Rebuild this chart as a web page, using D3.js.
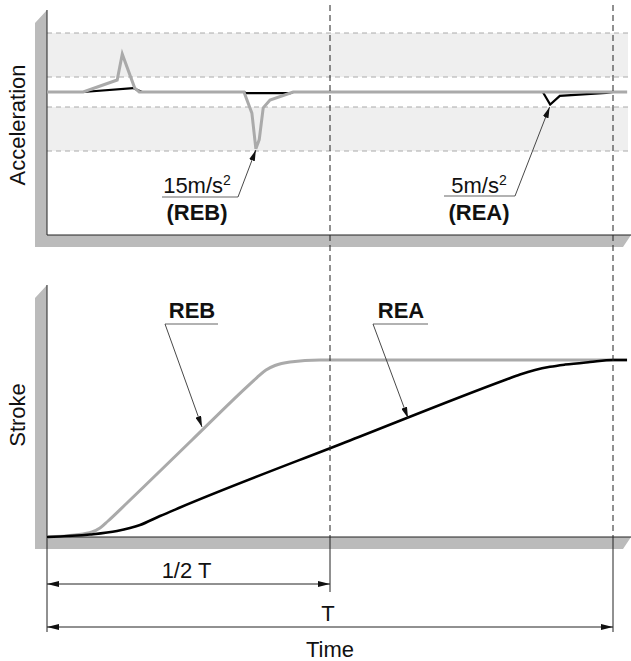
<!DOCTYPE html>
<html>
<head>
<meta charset="utf-8">
<script src="https://cdn.jsdelivr.net/npm/d3@7"></script>
<style>
  html, body { margin: 0; padding: 0; background: #fff; }
  svg { display: block; font-family: "Liberation Sans", Arial, Helvetica, sans-serif; }
</style>
</head>
<body>
<svg id="chart" width="631" height="661"></svg>
<script>
// ---------- data (time in units of T) ----------
const accTimeREB = [0, 0.064, 0.124, 0.133, 0.155, 0.163, 0.348, 0.362, 0.369, 0.375, 0.382, 0.394, 0.435, 1.025];
const accREB     = [0, 0,     4,     10.2,  1.3,   0,     0,     -6.4,  -14.5, -12.4, -5.2,  -2.7,  0,     0];

const accTimeREA = [0, 0.064, 0.152, 0.168, 0.348, 0.352, 0.43, 0.435, 0.876, 0.889, 0.906, 0.988, 1.0];
const accREA     = [0, 0,     1.3,   0,     0,     -0.4,  -0.4, 0,     0,     -4.2,  -1.3,  -0.3,  0];

const strokeTimeREB = [0, 0.0495, 0.0795, 0.0936, 0.1078, 0.1413, 0.2562, 0.3498, 0.371, 0.3869, 0.4028, 0.4293, 0.4823, 1.025];
const strokeREB     = [0, 0.0113, 0.0282, 0.0508, 0.0904, 0.1921, 0.548,  0.8384, 0.9011, 0.9435, 0.9689, 0.9887, 1.0,  1.0];

const strokeTimeREA = [0, 0.076, 0.1237, 0.1643, 0.1996, 0.235, 0.5353, 0.8092, 0.8357, 0.8622, 0.8887, 0.9152, 0.9594, 1.0, 1.0247];
const strokeREA     = [0, 0.0141, 0.0339, 0.0678, 0.1186, 0.1667, 0.5452, 0.887, 0.9181, 0.9435, 0.9616, 0.974, 0.9887, 1.0, 1.0];

const accBandLimits = [-15, -5, 0, 5, 15];
const timeMarkers = [0.5, 1];
const timeMarkerLabels = ["1/2 T", "T"];
const axisTitles = ["Acceleration", "Stroke", "Time"];
const seriesNames = ["REB", "REA"];
const peakLabels = ["15m/s", "5m/s"];

// ---------- layout ----------
const svg = d3.select("#chart");
const X0 = 47, X1 = 613, XEND = 631;
const GRAY = "#aaaaaa", SLAB = "#bbbbbb", BAND = "#efefef", DARK = "#222";

const x = d3.scaleLinear().domain([0, 1]).range([X0, X1]);
const yAcc = d3.scaleLinear().domain(accBandLimits).range([151, 107, 92, 77, 33]);
const yStroke = d3.scaleLinear().domain([0, 1]).range([537, 360]);

const defs = svg.append("defs");
function marker(id, len, half) {
  defs.append("marker").attr("id", id).attr("viewBox", `0 0 ${len} ${half*2}`)
    .attr("refX", len).attr("refY", half).attr("markerWidth", len).attr("markerHeight", half*2)
    .attr("markerUnits", "userSpaceOnUse").attr("orient", "auto-start-reverse")
    .append("path").attr("d", `M0,0L${len},${half}L0,${half*2}Z`).attr("fill", "#111");
}
marker("arr", 11, 3);
marker("dim", 12, 3);

// ---------- slabs (3D axes) ----------
function slab(topY, baseY) {
  svg.append("path")
    .attr("d", `M35,${topY+13}L47,${topY}L47,${baseY}L${XEND},${baseY}L${XEND-8},${baseY+12}L35,${baseY+12}Z`)
    .attr("fill", SLAB);
}
slab(10, 235);
slab(285, 537);

// ---------- top panel bands ----------
const xBandEnd = 628;
[[5, 15], [-15, -5]].forEach(([a, b]) => {
  svg.append("rect").attr("x", X0).attr("width", xBandEnd - X0)
    .attr("y", yAcc(b)).attr("height", yAcc(a) - yAcc(b)).attr("fill", BAND);
});
accBandLimits.filter(v => v !== 0).forEach(v => {
  svg.append("line").attr("x1", X0).attr("x2", xBandEnd).attr("y1", yAcc(v)).attr("y2", yAcc(v))
    .attr("stroke", GRAY).attr("stroke-width", 1).attr("stroke-dasharray", "5,4");
});

// axis lines
svg.append("path").attr("d", `M47,10L47,235L${XEND},235`).attr("fill", "none").attr("stroke", DARK).attr("stroke-width", 1);
svg.append("path").attr("d", `M47,285L47,632M47,537L${XEND},537`).attr("fill", "none").attr("stroke", DARK).attr("stroke-width", 1);

// ---------- lines ----------
const lineAcc = d3.line().x(d => x(d[0])).y(d => yAcc(d[1]));
const lineStroke = d3.line().x(d => x(d[0])).y(d => yStroke(d[1])).curve(d3.curveMonotoneX);

svg.append("path").datum(d3.zip(accTimeREA, accREA)).attr("d", lineAcc)
  .attr("fill", "none").attr("stroke", "#000").attr("stroke-width", 2.2).attr("stroke-linejoin", "miter");
svg.append("path").datum(d3.zip(accTimeREB, accREB)).attr("d", lineAcc)
  .attr("fill", "none").attr("stroke", GRAY).attr("stroke-width", 3);

svg.append("path").datum(d3.zip(strokeTimeREB, strokeREB)).attr("d", lineStroke)
  .attr("fill", "none").attr("stroke", GRAY).attr("stroke-width", 3);
svg.append("path").datum(d3.zip(strokeTimeREA, strokeREA)).attr("d", lineStroke)
  .attr("fill", "none").attr("stroke", "#000").attr("stroke-width", 2.5);

// ---------- time markers ----------
const extEnds = [592, 632];
timeMarkers.forEach((t, i) => {
  svg.append("line").attr("x1", x(t)).attr("x2", x(t)).attr("y1", 5).attr("y2", 537)
    .attr("stroke", DARK).attr("stroke-width", 1).attr("stroke-dasharray", "6,4");
  svg.append("line").attr("x1", x(t)).attr("x2", x(t)).attr("y1", 537).attr("y2", extEnds[i])
    .attr("stroke", DARK).attr("stroke-width", 1);
});
const dimY = [584, 627];
timeMarkers.forEach((t, i) => {
  svg.append("line").attr("x1", x(0)).attr("x2", x(t)).attr("y1", dimY[i]).attr("y2", dimY[i])
    .attr("stroke", DARK).attr("stroke-width", 1)
    .attr("marker-start", "url(#dim)").attr("marker-end", "url(#dim)");
  svg.append("text").attr("x", (x(0) + x(t)) / 2 - 2).attr("y", dimY[i] - 6)
    .attr("text-anchor", "middle").attr("font-size", 22).attr("fill", "#111")
    .text(timeMarkerLabels[i]);
});

// ---------- axis titles ----------
svg.append("text").attr("transform", "translate(25,125) rotate(-90)").attr("text-anchor", "middle")
  .attr("font-size", 22).attr("fill", "#111").text(axisTitles[0]);
svg.append("text").attr("transform", "translate(25,415) rotate(-90)").attr("text-anchor", "middle")
  .attr("font-size", 22).attr("fill", "#111").text(axisTitles[1]);
svg.append("text").attr("x", x(0.5)).attr("y", 657).attr("text-anchor", "middle")
  .attr("font-size", 22).attr("fill", "#111").text(axisTitles[2]);

// ---------- annotations ----------
function leader(pts) {
  svg.append("polyline").attr("points", pts.map(p => p.join(",")).join(" "))
    .attr("fill", "none").attr("stroke", "#333").attr("stroke-width", 0.9)
    .attr("marker-end", "url(#arr)");
}
function underline(x1, x2, y) {
  svg.append("line").attr("x1", x1).attr("x2", x2).attr("y1", y).attr("y2", y)
    .attr("stroke", "#999").attr("stroke-width", 1.5);
}
function peakLabel(cx, txt, name) {
  const t = svg.append("text").attr("x", cx).attr("y", 193).attr("text-anchor", "middle")
    .attr("font-size", 22).attr("fill", "#111");
  t.append("tspan").text(txt);
  t.append("tspan").attr("font-size", 14).attr("dy", -8).text("2");
  svg.append("text").attr("x", cx).attr("y", 220).attr("text-anchor", "middle")
    .attr("font-size", 22).attr("font-weight", "bold").attr("fill", "#111").text("(" + name + ")");
}
// REB acceleration peak
peakLabel(197, peakLabels[0], seriesNames[0]);
underline(162, 238, 197);
leader([[238, 197], [x(0.369), yAcc(-15) - 1]]);
// REA acceleration peak
peakLabel(479, peakLabels[1], seriesNames[1]);
underline(444, 515, 196);
leader([[515, 196], [x(0.888), yAcc(-5)]]);

// stroke labels
svg.append("text").attr("x", 192).attr("y", 318).attr("text-anchor", "middle")
  .attr("font-size", 22).attr("font-weight", "bold").attr("fill", "#111").text(seriesNames[0]);
underline(165, 218, 324);
leader([[165, 324], [202, 427]]);

svg.append("text").attr("x", 401).attr("y", 318).attr("text-anchor", "middle")
  .attr("font-size", 22).attr("font-weight", "bold").attr("fill", "#111").text(seriesNames[1]);
underline(373, 428, 324);
leader([[373, 324], [408, 418]]);
</script>
</body>
</html>
